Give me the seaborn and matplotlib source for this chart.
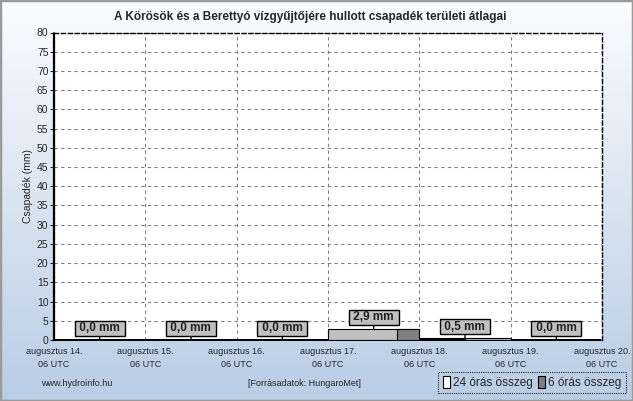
import numpy as np
import pandas as pd
import matplotlib
matplotlib.use("Agg")
import matplotlib.pyplot as plt
import seaborn as sns
from matplotlib.colors import LinearSegmentedColormap
from matplotlib.patches import Patch, Rectangle

# adatok
nap_cimkek = ['augusztus 14.\n06 UTC', 'augusztus 15.\n06 UTC', 'augusztus 16.\n06 UTC',
              'augusztus 17.\n06 UTC', 'augusztus 18.\n06 UTC', 'augusztus 19.\n06 UTC',
              'augusztus 20.\n06 UTC']
osszeg_24 = [0.0, 0.0, 0.0, 2.9, 0.5, 0.0]
osszeg_6 = [0.0, 0.0, 0.0, 0.0,
            0.0, 0.0, 0.0, 0.0,
            0.0, 0.0, 0.0, 0.0,
            0.0, 0.0, 0.0, 2.9,
            0.3, 0.2, 0.0, 0.0,
            0.0, 0.0, 0.0, 0.0]

sns.set_style("white")
plt.rcParams['font.family'] = ['Liberation Sans', 'DejaVu Sans']

fig = plt.figure(figsize=(6.33, 4.01), dpi=100)

# hatter szinatmenet
bg = fig.add_axes([0, 0, 1, 1], zorder=-10)
cmap = LinearSegmentedColormap.from_list("bg", ["#fbfcfe", "#b9cde5"])
bg.imshow(np.linspace(0, 1, 256).reshape(-1, 1), aspect='auto', cmap=cmap, extent=[0, 1, 0, 1])
bg.axis('off')
fig.patches.append(Rectangle((0, 0), 1, 1, transform=fig.transFigure, fill=False,
                             ec='#9a9a9a', lw=2.5))

ax = fig.add_axes([54 / 633, 1 - 340 / 401, 548 / 633, 307.5 / 401])
ax.set_facecolor('white')

df24 = pd.DataFrame({'nap': np.arange(len(osszeg_24)) + 0.5, 'mm': osszeg_24})
df6 = pd.DataFrame({'nap': np.arange(len(osszeg_6)) * 0.25 + 0.125, 'mm': osszeg_6})

sns.barplot(data=df24, x='nap', y='mm', native_scale=True, width=1, color='#c0c0c0',
            saturation=1, edgecolor='black', linewidth=0.8, errorbar=None, ax=ax, zorder=3)
sns.barplot(data=df6, x='nap', y='mm', native_scale=True, width=1, color='#808080',
            saturation=1, edgecolor='black', linewidth=0.8, errorbar=None, ax=ax, zorder=4)

ax.set_xlim(0, 6)
ax.set_ylim(0, 80)
ax.set_xticks(np.arange(7))
ax.set_xticklabels(nap_cimkek, fontsize=6.5, linespacing=1.65)
ax.set_yticks(np.arange(0, 81, 5))
ax.tick_params(axis='y', labelsize=7.5, length=3, width=0.8, direction='out', left=True, pad=1)
ax.tick_params(axis='x', length=0, pad=5)
ax.set_xlabel('')
ax.set_ylabel('Csapadék (mm)', fontsize=7.5, labelpad=3)

ax.grid(True, color='#808080', linestyle=(0, (3, 3)), linewidth=0.8)
ax.set_axisbelow(True)

for s in ['top', 'right']:
    ax.spines[s].set_linestyle((0, (3, 2)))
    ax.spines[s].set_linewidth(1)
    ax.spines[s].set_color('black')
ax.spines['left'].set_linestyle((0, (1.5, 0.7)))
ax.spines['left'].set_linewidth(1.6)
ax.spines['left'].set_color('black')
ax.spines['bottom'].set_linestyle((0, (2, 1)))
ax.spines['bottom'].set_linewidth(1.4)
ax.spines['bottom'].set_color('black')

# feliratok a napi oszlopok felett
for x, v in zip(df24['nap'], osszeg_24):
    ax.annotate(" " + f"{v:.1f}".replace('.', ',') + " mm ", xy=(x, v), xytext=(0, 4),
                textcoords='offset points', ha='center', va='bottom', fontsize=8.5,
                fontweight='bold', color='#202020', zorder=6,
                bbox=dict(boxstyle='square,pad=0.12', fc='#c0c0c0', ec='black', lw=1),
                arrowprops=dict(arrowstyle='-', color='black', lw=1, shrinkA=0, shrinkB=0))

fig.text(0.49, 0.957, 'A Körösök és a Berettyó vízgyűjtőjére hullott csapadék területi átlagai',
         ha='center', va='center', fontsize=8.5, fontweight='bold')
fig.text(77 / 633, 1 - 384 / 401, 'www.hydroinfo.hu', ha='center', va='center', fontsize=6.5)
fig.text(304 / 633, 1 - 384 / 401, '[Forrásadatok: HungaroMet]', ha='center', va='center',
         fontsize=6.5)

leg = fig.legend(handles=[Patch(fc='white', ec='black', lw=0.8, label='24 órás összeg'),
                          Patch(fc='#808080', ec='black', lw=0.8, label='6 órás összeg')],
                 loc='center', bbox_to_anchor=(532 / 633, 1 - 382.5 / 401), ncol=2,
                 fontsize=8.5, frameon=True, fancybox=False, handlelength=0.6,
                 handleheight=1.2, handletextpad=0.3, columnspacing=0.4, borderpad=0.35)
fr = leg.get_frame()
fr.set_facecolor('none')
fr.set_edgecolor('black')
fr.set_linestyle((0, (1, 1)))
fr.set_linewidth(0.8)

fig.savefig('out.png', dpi=100)
